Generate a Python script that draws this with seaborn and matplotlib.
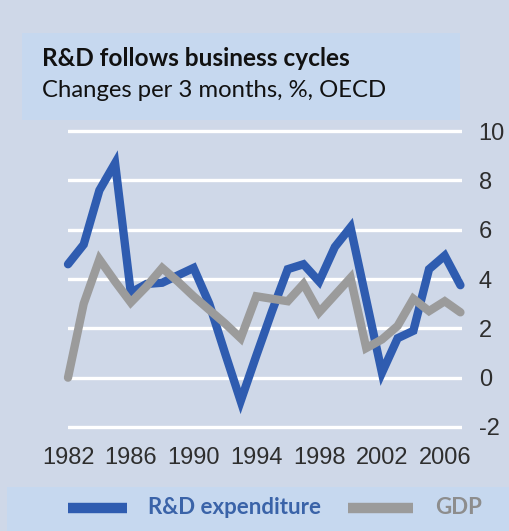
import matplotlib
matplotlib.use('Agg')
import matplotlib.pyplot as plt
import pandas as pd
import seaborn as sns
from matplotlib.patches import Rectangle
from matplotlib.lines import Line2D

# data
years = list(range(1982, 2008))
rd_values = [4.6, 5.4, 7.6, 8.7, 3.45, 3.8, 3.85, 4.15, 4.45, 3.0, 1.0, -0.95, 0.9,
             2.7, 4.4, 4.6, 3.9, 5.3, 6.1, 3.15, 0.2, 1.6, 1.9, 4.4, 4.95, 3.75]
gdp_values = [0.0, 3.0, 4.8, 3.9, 3.05, 3.7, 4.45, 3.9, 3.3, 2.75, 2.2, 1.6, 3.3,
              3.2, 3.1, 3.8, 2.65, 3.35, 4.05, 1.2, 1.55, 2.1, 3.2, 2.7, 3.1, 2.65]
series_names = ['R&D expenditure', 'GDP']
x_ticks = [1982, 1986, 1990, 1994, 1998, 2002, 2006]
y_ticks = [-2, 0, 2, 4, 6, 8, 10]

title = 'R&D follows business cycles'
subtitle = 'Changes per 3 months, %, OECD'

colors = {'R&D expenditure': '#2f5cb0', 'GDP': '#9b9b9b'}
bg = '#cfd8e8'
box = '#c6d8ef'

df = pd.DataFrame({
    'year': years * 2,
    'value': rd_values + gdp_values,
    'series': [series_names[0]] * len(years) + [series_names[1]] * len(years),
})

sns.set_theme(style='white')
plt.rcParams['font.family'] = ['Liberation Sans Narrow', 'Liberation Sans', 'DejaVu Sans']
plt.rcParams['axes.unicode_minus'] = False

fig = plt.figure(figsize=(5.1, 5.31), dpi=100, facecolor=bg)
# title box and legend box
fig.patches.append(Rectangle((22 / 510, 1 - 120 / 531), 438 / 510, 87 / 531,
                             transform=fig.transFigure, facecolor=box, edgecolor='none', zorder=0))
fig.patches.append(Rectangle((7 / 510, 0), 503 / 510, 44 / 531,
                             transform=fig.transFigure, facecolor=box, edgecolor='none', zorder=0))

ax = fig.add_axes([68 / 510, 0.182, 394 / 510, 0.585])
ax.set_facecolor('none')
sns.lineplot(data=df, x='year', y='value', hue='series', hue_order=series_names,
             palette=colors, linewidth=6, legend=False, ax=ax)
for ln in ax.get_lines():
    ln.set_solid_joinstyle('miter')
    ln.set_clip_on(False)

ax.set_xlim(1982, 2007.1)
ax.set_ylim(-2.3, 10.3)
ax.set_xticks(x_ticks)
ax.set_yticks(y_ticks)
ax.yaxis.tick_right()
ax.grid(axis='y', color='white', linewidth=2.4)
ax.grid(axis='x', visible=False)
ax.set_axisbelow(True)
for s in ax.spines.values():
    s.set_visible(False)
ax.tick_params(axis='both', length=0, labelsize=17, colors='#2e2e2e')
ax.tick_params(axis='y', pad=12)
ax.tick_params(axis='x', pad=9)
ax.set_xlabel('')
ax.set_ylabel('')

fig.text(42 / 510, 1 - 66 / 531, title, fontsize=17.6, fontweight='bold',
         family=['Lato', 'DejaVu Sans'], color='#111111', va='baseline')
fig.text(42 / 510, 1 - 97 / 531, subtitle, fontsize=17.2,
         family=['Lato', 'DejaVu Sans'], color='#111111', va='baseline')

# legend drawn by hand
ly = 1 - 508 / 531
fig.add_artist(Line2D([68 / 510, 127 / 510], [ly, ly], color=colors['R&D expenditure'],
                      linewidth=7.5, transform=fig.transFigure, solid_capstyle='butt'))
fig.add_artist(Line2D([348 / 510, 413 / 510], [ly, ly], color=colors['GDP'],
                      linewidth=7.5, transform=fig.transFigure, solid_capstyle='butt'))
fig.text(148 / 510, ly, 'R&D expenditure', fontsize=16, fontweight='bold',
         family=['Lato', 'DejaVu Sans'], color='#3a63a8', va='center')
fig.text(435 / 510, ly, 'GDP', fontsize=16, fontweight='bold',
         family=['Lato', 'DejaVu Sans'], color='#8d8d8d', va='center')

fig.savefig('out.png', dpi=100, facecolor=bg)
